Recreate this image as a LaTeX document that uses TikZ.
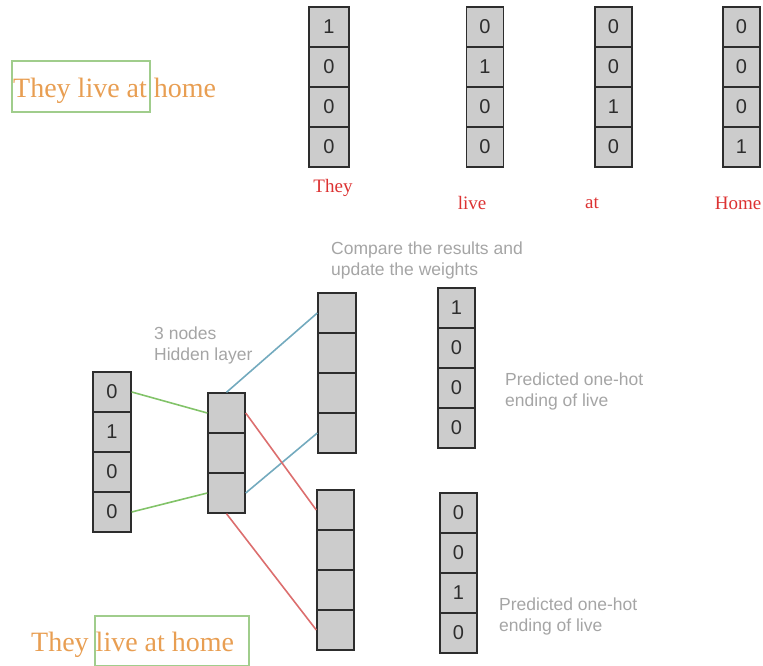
\documentclass[tikz,border=0pt]{standalone}
\usepackage{fontspec}
\setmainfont{Liberation Serif}
\setsansfont{Liberation Sans}
\begin{document}
\definecolor{cellfill}{RGB}{204,204,204}
\definecolor{cellline}{RGB}{45,45,45}
\definecolor{wordorange}{RGB}{232,158,82}
\definecolor{boxgreen}{RGB}{160,205,140}
\definecolor{wordred}{RGB}{220,50,50}
\definecolor{notegray}{RGB}{165,165,165}
\definecolor{lgreen}{RGB}{130,195,105}
\definecolor{lblue}{RGB}{115,170,190}
\definecolor{lred}{RGB}{220,110,110}
\begin{tikzpicture}[x=1pt,y=-1pt,
  cell/.style={draw=cellline,line width=1.4pt,fill=cellfill,minimum width=#1,minimum height=40pt,
    inner sep=0pt,font=\sffamily\fontsize{20}{20}\selectfont,text=cellline},
  cell/.default=38pt,
  sentence/.style={anchor=west,inner sep=0pt,text=wordorange,font=\fontsize{28}{28}\selectfont},
  sentbox/.style={draw=boxgreen,line width=2.2pt,inner sep=0pt},
  wordlabel/.style={inner sep=0pt,text=wordred,font=\fontsize{19}{19}\selectfont},
  note/.style={anchor=north west,inner sep=0pt,align=left,text=notegray,
    font=\sffamily\fontsize{17.5}{21}\selectfont},
  wgreen/.style={draw=lgreen,line width=1.6pt},
  wblue/.style={draw=lblue,line width=1.6pt},
  wred/.style={draw=lred,line width=1.6pt}]
\useasboundingbox (0,0) rectangle (763,666);

% one-hot vectors of the four words
\foreach \nm/\cx/\w/\a/\b/\c/\d in {they/329/40pt/1/0/0/0, live/485/37pt/0/1/0/0,
    at/613.5/37pt/0/0/1/0, home/741.5/37pt/0/0/0/1}{
  \node[cell=\w] (\nm1) at (\cx,27) {\a};
  \node[cell=\w] (\nm2) at (\cx,67) {\b};
  \node[cell=\w] (\nm3) at (\cx,107) {\c};
  \node[cell=\w] (\nm4) at (\cx,147) {\d};
}
\node[wordlabel] (lthey) at (333,188) {They};
\node[wordlabel] (llive) at (472,203) {live};
\node[wordlabel] (lat) at (592,203) {at};
\node[wordlabel] (lhome) at (738,203) {Home};

% sentence with the current context window
\node[sentbox,minimum width=138pt,minimum height=51pt] (topbox) at (81,86.5) {};
\node[sentence] (topsent) at (13,91) {They live at home};

% input vector
\foreach \i/\y/\v in {1/392/0,2/432/1,3/472/0,4/512/0}
  \node[cell=38pt] (in\i) at (112,\y) {\v};

% hidden layer
\foreach \i/\y in {1/413,2/453,3/493}
  \node[cell=37pt] (hid\i) at (226.5,\y) {};

% output layers
\foreach \i/\y in {1/313,2/353,3/393,4/433}
  \node[cell=38pt] (oa\i) at (337,\y) {};
\foreach \i/\y in {1/510,2/550,3/590,4/630}
  \node[cell=37pt] (ob\i) at (335.5,\y) {};

% predicted one-hot vectors
\foreach \i/\y/\v in {1/308/1,2/348/0,3/388/0,4/428/0}
  \node[cell=37pt] (pa\i) at (456.5,\y) {\v};
\foreach \i/\y/\v in {1/513/0,2/553/0,3/593/1,4/633/0}
  \node[cell=37pt] (pb\i) at (458.5,\y) {\v};

% weights
\draw[wgreen] (in1.east) -- (hid1.west);
\draw[wgreen] (in4.east) -- (hid3.west);
\draw[wblue] (hid1.north) -- (oa1.west);
\draw[wblue] (hid3.east) -- (oa4.west);
\draw[wred] (hid1.east) -- (ob1.west);
\draw[wred] (hid3.south) -- (ob4.west);

% annotations
\node[note] (ncompare) at (331,242) {Compare the results and\\update the weights};
\node[note] (nhidden) at (154,327) {3 nodes\\Hidden layer};
\node[note] (npreda) at (505,373) {Predicted one-hot\\ending of live};
\node[note] (npredb) at (499,598) {Predicted one-hot\\ending of live};

% sentence with the next context window
\node[sentbox,minimum width=154pt,minimum height=50pt] (botbox) at (172,641) {};
\node[sentence] (botsent) at (31,645) {They live at home};
\end{tikzpicture}
\end{document}
